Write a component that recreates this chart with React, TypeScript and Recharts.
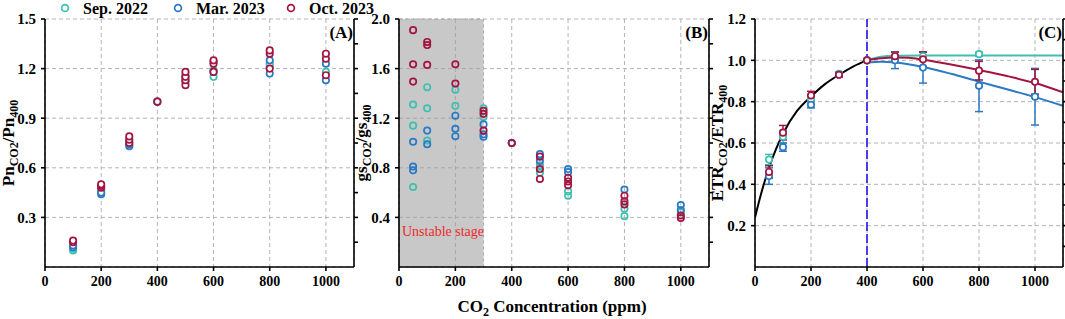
import React from "react";
import {
  ComposedChart,
  Scatter,
  Line,
  XAxis,
  YAxis,
  CartesianGrid,
  ReferenceArea,
  ReferenceLine,
  ErrorBar,
} from "recharts";

const TEAL = "#3fbfae";
const BLUE = "#2a79c4";
const CRIMSON = "#a3143f";
const GRID = "#b4b4b4";
const FONT = '"Liberation Serif", "Times New Roman", serif';

// x axis (CO2, ppm)
const xTicks = [0, 200, 400, 600, 800, 1000];
const xMinor = [0, 100, 200, 300, 400, 500, 600, 700, 800, 900, 1000, 1100];

// (A) Pn_CO2 / Pn_400, [concentration, value]
const pnSep: [number, number][] = [
  [100, 0.1], [100, 0.11], [200, 0.46], [200, 0.47], [300, 0.75], [300, 0.76],
  [400, 1.0], [500, 1.13], [500, 1.16], [600, 1.15], [600, 1.19],
  [800, 1.21], [800, 1.23], [1000, 1.18],
];
const pnMar: [number, number][] = [
  [100, 0.12], [100, 0.13], [200, 0.44], [200, 0.45], [300, 0.73], [300, 0.74],
  [400, 1.0], [500, 1.12], [500, 1.15], [600, 1.18], [600, 1.24],
  [800, 1.17], [800, 1.25], [1000, 1.13], [1000, 1.23],
];
const pnOct: [number, number][] = [
  [100, 0.15], [100, 0.16], [200, 0.48], [200, 0.49], [200, 0.5],
  [300, 0.75], [300, 0.77], [300, 0.79], [400, 1.0],
  [500, 1.1], [500, 1.13], [500, 1.15], [500, 1.18],
  [600, 1.18], [600, 1.23], [600, 1.25], [800, 1.2], [800, 1.29], [800, 1.31],
  [1000, 1.16], [1000, 1.26], [1000, 1.29],
];

// (B) gs_CO2 / gs_400
const gsSep: [number, number][] = [
  [50, 1.31], [50, 1.14], [50, 0.645], [100, 1.45], [100, 1.28], [100, 1.02],
  [200, 1.43], [200, 1.3], [300, 1.28], [300, 1.21], [400, 1.0],
  [500, 0.82], [500, 0.76], [600, 0.61], [600, 0.575], [800, 0.47], [800, 0.41],
  [1000, 0.44],
];
const gsMar: [number, number][] = [
  [50, 1.01], [50, 0.81], [50, 0.78], [100, 1.1], [100, 0.99],
  [200, 1.22], [200, 1.115], [200, 1.055], [300, 1.15], [300, 1.07], [300, 1.05],
  [400, 1.0], [500, 0.91], [500, 0.855], [600, 0.79], [600, 0.765],
  [800, 0.625], [1000, 0.5], [1000, 0.46],
];
const gsOct: [number, number][] = [
  [50, 1.91], [50, 1.635], [50, 1.495], [100, 1.815], [100, 1.79], [100, 1.63],
  [200, 1.635], [200, 1.48], [300, 1.26], [300, 1.235], [300, 1.1], [400, 1.0],
  [500, 0.89], [500, 0.79], [500, 0.71], [600, 0.72], [600, 0.69], [600, 0.66],
  [800, 0.575], [800, 0.53], [800, 0.505], [1000, 0.415], [1000, 0.395],
];

// (C) ETR_CO2 / ETR_400, [concentration, mean, error]
const etrSep: [number, number, number][] = [
  [50, 0.52, 0.025], [100, 0.63, 0.03], [200, 0.81, 0.02], [300, 0.935, 0.01],
  [400, 1.0, 0], [500, 1.02, 0.02], [600, 1.02, 0.02], [800, 1.03, 0.01],
];
const etrMar: [number, number, number][] = [
  [50, 0.44, 0.04], [100, 0.58, 0.02], [200, 0.785, 0.015], [300, 0.93, 0.01],
  [400, 1.0, 0], [500, 1.0, 0.04], [600, 0.965, 0.075], [800, 0.877, 0.125],
  [1000, 0.824, 0.137],
];
const etrOct: [number, number, number][] = [
  [50, 0.46, 0.03], [100, 0.65, 0.035], [200, 0.83, 0.02], [300, 0.93, 0.01],
  [400, 1.0, 0], [500, 1.02, 0.02], [600, 1.005, 0.035], [800, 0.95, 0.045],
  [1000, 0.896, 0.06],
];

// fitted curves
const fitRise: [number, number][] = [
  [0, 0.24], [25, 0.37], [50, 0.48], [75, 0.57], [100, 0.645], [150, 0.755],
  [200, 0.825], [250, 0.885], [300, 0.93], [350, 0.97], [400, 1.0],
];
const fitSep: [number, number][] = [
  [400, 1.0], [450, 1.017], [500, 1.022], [600, 1.023], [800, 1.023], [1100, 1.023],
];
const fitMar: [number, number][] = [
  [400, 0.99], [450, 0.993], [500, 0.99], [600, 0.968], [700, 0.935],
  [800, 0.897], [900, 0.86], [1000, 0.822], [1100, 0.78],
];
const fitOct: [number, number][] = [
  [400, 1.0], [450, 1.01], [500, 1.014], [550, 1.012], [600, 1.003], [700, 0.98],
  [800, 0.953], [900, 0.924], [1000, 0.89], [1100, 0.845],
];

const pts = (a: [number, number][]) => a.map(([c, v]) => ({ c, v }));
const ptsErr = (a: [number, number, number][]) => a.map(([c, v, e]) => ({ c, v, e }));

const ring = (color: string, fill: string) => (p: any) =>
  p.cx == null ? <g /> : (
    <circle cx={p.cx} cy={p.cy} r={3.2} fill={fill} stroke={color} strokeWidth={1.7} />
  );

const xTickFont = { fill: "#000", fontSize: 14, fontWeight: "bold", fontFamily: FONT };
const yTickFont = { fill: "#000", fontSize: 15, fontWeight: "bold", fontFamily: FONT };
const axisStroke = { stroke: "#000", strokeWidth: 1.6 };

// shared frame: bottom + top x axes, left + right y axes, dashed grid
function frame(yMax: number, yTicks: number[], yMinor: number[], rightW: number) {
  return [
    <CartesianGrid key="g" xAxisId="b" yAxisId="l" stroke={GRID} strokeDasharray="4 3" />,
    <XAxis key="xb" xAxisId="b" dataKey="c" type="number" domain={[0, 1100]}
      allowDataOverflow ticks={xTicks} height={30} tickSize={4} tickMargin={5}
      tick={xTickFont} axisLine={axisStroke} tickLine={axisStroke} />,
    <XAxis key="xt" xAxisId="t" orientation="top" dataKey="c" type="number"
      domain={[0, 1100]} allowDataOverflow ticks={xMinor} height={0} mirror
      tickSize={4} tickFormatter={() => ""} axisLine={axisStroke} tickLine={axisStroke} />,
    <YAxis key="yl" yAxisId="l" dataKey="v" type="number" domain={[0, yMax]}
      allowDataOverflow ticks={yTicks} width={45} tickSize={4} tickMargin={5}
      tick={yTickFont} tickFormatter={(v: number) => v.toFixed(1)}
      axisLine={axisStroke} tickLine={axisStroke} />,
    <YAxis key="yr" yAxisId="r" orientation="right" dataKey="v" type="number"
      domain={[0, yMax]} allowDataOverflow ticks={yMinor} width={rightW}
      tickSize={4} tickFormatter={() => ""} axisLine={axisStroke} tickLine={axisStroke} />,
  ];
}

const series = (key: string, data: any[], color: string, fill: string) => (
  <Scatter key={key} xAxisId="b" yAxisId="l" data={data} dataKey="v"
    shape={ring(color, fill)} isAnimationActive={false} />
);

const curve = (key: string, data: [number, number][], color: string) => (
  <Line key={key} xAxisId="b" yAxisId="l" data={pts(data)} dataKey="v" type="monotone"
    stroke={color} strokeWidth={2} dot={false} activeDot={false} isAnimationActive={false} />
);

function PanelA() {
  return (
    <ComposedChart width={362} height={319} margin={{ top: 19, right: 0, bottom: 22, left: 0 }}>
      {frame(1.5, [0.3, 0.6, 0.9, 1.2, 1.5],
        [0.15, 0.3, 0.45, 0.6, 0.75, 0.9, 1.05, 1.2, 1.35, 1.5], 8)}
      {series("s", pts(pnSep), TEAL, "#fff")}
      {series("m", pts(pnMar), BLUE, "#fff")}
      {series("o", pts(pnOct), CRIMSON, "#fff")}
    </ComposedChart>
  );
}

function PanelB() {
  return (
    <ComposedChart width={363} height={319} margin={{ top: 19, right: 0, bottom: 22, left: 0 }}>
      <ReferenceArea xAxisId="b" yAxisId="l" x1={0} x2={300} y1={0} y2={2}
        fill="#9b9b9b" fillOpacity={0.55} stroke="#aaa" strokeDasharray="3 3" />
      {frame(2.0, [0.4, 0.8, 1.2, 1.6, 2.0],
        [0.2, 0.4, 0.6, 0.8, 1.0, 1.2, 1.4, 1.6, 1.8, 2.0], 8)}
      {series("s", pts(gsSep), TEAL, "none")}
      {series("m", pts(gsMar), BLUE, "none")}
      {series("o", pts(gsOct), CRIMSON, "none")}
    </ComposedChart>
  );
}

function PanelC() {
  return (
    <ComposedChart width={355} height={319} margin={{ top: 19, right: 0, bottom: 22, left: 0 }}>
      {frame(1.2, [0.2, 0.4, 0.6, 0.8, 1.0, 1.2],
        [0.1, 0.2, 0.3, 0.4, 0.5, 0.6, 0.7, 0.8, 0.9, 1.0, 1.1, 1.2], 2)}
      <ReferenceLine xAxisId="b" yAxisId="l" x={400} stroke="#4b3cf2"
        strokeWidth={2} strokeDasharray="9 3" />
      {curve("k", fitRise, "#000")}
      {curve("cs", fitSep, TEAL)}
      {curve("cm", fitMar, BLUE)}
      {curve("co", fitOct, CRIMSON)}
      {[
        [etrSep, TEAL],
        [etrMar, BLUE],
        [etrOct, CRIMSON],
      ].map(([d, color], i) => (
        <Scatter key={"e" + i} xAxisId="b" yAxisId="l" data={ptsErr(d as any)} dataKey="v"
          shape={ring(color as string, "#fff")} isAnimationActive={false}>
          <ErrorBar dataKey="e" direction="y" width={4} stroke={color as string}
            strokeWidth={1.5} isAnimationActive={false} />
        </Scatter>
      ))}
    </ComposedChart>
  );
}

function YTitle({ x, main, sub, main2, sub2 }: { x: number; main: string; sub: string; main2: string; sub2: string }) {
  return (
    <text transform={`translate(${x},143) rotate(-90)`} textAnchor="middle"
      fontFamily={FONT} fontWeight="bold" fontSize={17} fill="#000">
      <tspan>{main}</tspan>
      <tspan fontSize={12} dy={4}>{sub}</tspan>
      <tspan dy={-4}>/{main2}</tspan>
      <tspan fontSize={12} dy={4}>{sub2}</tspan>
    </text>
  );
}

const legendItems = [
  { label: "Sep. 2022", color: TEAL, cx: 65 },
  { label: "Mar. 2023", color: BLUE, cx: 178 },
  { label: "Oct. 2023", color: CRIMSON, cx: 291 },
];

export default function App() {
  return (
    <div style={{ position: "absolute", left: 0, top: 0, width: 1065, height: 319, background: "#fff", overflow: "hidden" }}>
      <div style={{ position: "absolute", left: 0, top: 0 }}><PanelA /></div>
      <div style={{ position: "absolute", left: 354, top: 0 }}><PanelB /></div>
      <div style={{ position: "absolute", left: 710, top: 0 }}><PanelC /></div>
      <svg width={1065} height={319} style={{ position: "absolute", left: 0, top: 0, pointerEvents: "none" }}>
        {legendItems.map((it) => (
          <g key={it.label}>
            <circle cx={it.cx} cy={8} r={3.4} fill="#fff" stroke={it.color} strokeWidth={1.7} />
            <text x={it.cx + 18} y={13.5} fontFamily={FONT} fontWeight="bold" fontSize={16} fill="#000">
              {it.label}
            </text>
          </g>
        ))}
        <YTitle x={14} main="Pn" sub="CO2" main2="Pn" sub2="400" />
        <YTitle x={367} main="gs" sub="CO2" main2="gs" sub2="400" />
        <YTitle x={723} main="ETR" sub="CO2" main2="ETR" sub2="400" />
        <text x={353} y={38} textAnchor="end" fontFamily={FONT} fontWeight="bold" fontSize={17}>(A)</text>
        <text x={708} y={38} textAnchor="end" fontFamily={FONT} fontWeight="bold" fontSize={17}>(B)</text>
        <text x={1062} y={38} textAnchor="end" fontFamily={FONT} fontWeight="bold" fontSize={17}>(C)</text>
        <text x={402} y={236} fontFamily={FONT} fontSize={14} fill="#ee2a2a">Unstable stage</text>
        <text x={552} y={312} textAnchor="middle" fontFamily={FONT} fontWeight="bold" fontSize={17} fill="#000">
          <tspan>CO</tspan>
          <tspan fontSize={12} dy={4}>2</tspan>
          <tspan dy={-4}> Concentration (ppm)</tspan>
        </text>
      </svg>
    </div>
  );
}
